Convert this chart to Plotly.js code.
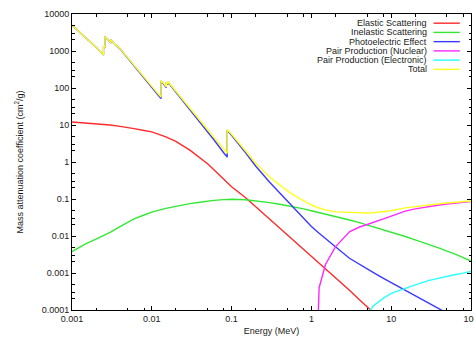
<!DOCTYPE html>
<html>
<head>
<meta charset="utf-8">
<script src="https://cdn.plot.ly/plotly-3.0.1.min.js"></script>
<style>html,body{margin:0;padding:0;background:#fff;}#chart{width:474px;height:340px;}</style>
</head>
<body>
<div id="chart"></div>
<script>
// ---- data ----
const seriesNames = ["Elastic Scattering", "Inelastic Scattering", "Photoelectric Effect",
  "Pair Production (Nuclear)", "Pair Production (Electronic)", "Total"];
const seriesColors = ["#ff2a2a", "#33e833", "#3a3aff", "#ff2aff", "#2affff", "#ffff22"];

const energyScatter = [0.001,0.0015,0.002,0.003,0.004,0.005,0.006,0.008,0.01,
  0.015,0.02,0.03,0.04,0.05,0.06,0.08,
  0.1,0.15,0.2,0.3,0.4,0.5,0.6,0.8,
  1,1.25,1.5,2,3,4,5,6,8,
  10,15,20,30,40,50,60,80,100];
const elastic = [12.0,11.4,10.9,10.0,9.2,8.6,8.0,7.1,6.5,
  4.8,3.6,2.1,1.32,0.9,0.62,0.33,
  0.215,0.108,0.062,0.029,0.017,0.0112,0.0078,0.0044,
  0.0029,0.0019,0.00131,0.00075,0.00034,0.00019,0.000122,0.000085,0.000048,
  0.00003,0.000014,0.0000078,0.0000035,0.000002,0.0000013,0.0000009,0.0000005,0.0000003];
const inelastic = [0.0038,0.0062,0.0082,0.0125,0.018,0.024,0.029,0.037,0.044,
  0.056,0.064,0.075,0.082,0.088,0.092,0.096,
  0.098,0.095,0.090,0.080,0.072,0.066,0.061,0.054,
  0.048,0.043,0.039,0.034,0.027,0.023,0.020,0.018,0.015,
  0.0128,0.0097,0.0079,0.0060,0.0047,0.0039,0.0034,0.0026,0.0021];

const energyPhoto = [0.001,0.0015,0.002,0.002484,0.002484,0.002586,0.002586,0.003066,0.003066,
  0.003554,0.003554,0.003851,0.003851,0.004,0.005,0.006,0.008,0.01,
  0.013035,0.013035,0.0152,0.0152,0.015861,0.015861,0.02,0.03,0.04,0.05,0.06,0.08,
  0.088005,0.088005,0.1,0.15,0.2,0.3,0.4,0.5,0.6,0.8,
  1,1.25,1.5,2,3,4,5,6,8,10,15,20,30,40,50,60,80,100];
const photoelectric = [4950,2300,1260,775,1350,1230,2450,1650,2050,
  1375,1500,1207,1270,1150,640,395,186,103,
  51.5,155,103,140,125,145,78,26,12,6.6,4.0,1.75,
  1.35,7.1,5.3,1.78,0.78,0.284,0.147,0.0885,0.058,0.030,
  0.018,0.0118,0.0087,0.0051,0.0025,0.0017,0.00129,0.00103,0.00072,0.00055,0.000335,0.00024,0.00015,0.000107,0.000083,0.000068,0.000049,0.000038];
const total = [4962,2311,1271,785,1360,1240,2460,1660,2060,
  1384,1509,1216,1279,1159,648,403,193,109.5,
  56.8,160.3,107.7,144.7,129.5,149.5,81.7,28.2,13.4,7.59,4.71,2.18,
  1.73,7.48,5.61,1.98,0.93,0.393,0.236,0.166,0.127,0.0884,
  0.0689,0.0571,0.0507,0.0450,0.0428,0.0424,0.0420,0.0424,0.0450,0.0482,0.0574,0.0626,0.0698,0.0746,0.0780,0.0805,0.0849,0.0882];

const energyPairNuclear = [1.022,1.25,1.5,2,3,4,5,6,8,10,15,20,30,40,50,60,80,100];
const pairNuclear = [1e-9,0.0004,0.0017,0.0051,0.013,0.0175,0.0205,0.0232,0.029,0.0345,0.047,0.054,0.063,0.069,0.073,0.076,0.081,0.085];

const energyPairElectronic = [2.044,3,4,5,6,8,10,15,20,30,40,50,60,80,100];
const pairElectronic = [1e-9,0.000003,0.00003,0.00008,0.00013,0.00021,0.00028,0.00039,0.00048,0.00063,0.00073,0.00081,0.00088,0.00099,0.0011];

const xTickVals = [0.001,0.01,0.1,1,10,100];
const xTickText = ["0.001","0.01","0.1","1","10","100"];
const yTickVals = [0.0001,0.001,0.01,0.1,1,10,100,1000,10000];
const yTickText = ["0.0001","0.001","0.01","0.1","1","10","100","1000","10000"];
const xMinorTicks = [0.002,0.005,0.008,0.02,0.05,0.08,0.2,0.5,0.8,2,5,8,20,50,80];
const yMinorTicks = [0.0002,0.0003,0.0005,0.002,0.003,0.005,0.02,0.03,0.05,0.2,0.3,0.5,2,3,5,20,30,50,200,300,500,2000,3000,5000];

// ---- traces ----
const xs = [energyScatter, energyScatter, energyPhoto, energyPairNuclear, energyPairElectronic, energyPhoto];
const ys = [elastic, inelastic, photoelectric, pairNuclear, pairElectronic, total];
const traces = seriesNames.map((n, i) => ({
  x: xs[i], y: ys[i], name: n, type: 'scatter', mode: 'lines',
  line: {color: seriesColors[i], width: 1.4}, showlegend: false, hoverinfo: 'skip'
}));

const font = {family: '"Liberation Sans", Arial, sans-serif', size: 9, color: '#1a1a1a'};

// gnuplot-style key: right-aligned text, line sample to the right
const keyTop = 0.969, keyStep = 0.0312;
const annotations = seriesNames.map((n, i) => ({
  xref: 'paper', yref: 'paper', x: 0.894, y: keyTop - i * keyStep,
  xanchor: 'right', yanchor: 'middle', text: n, showarrow: false, font: font
}));
const shapes = seriesNames.map((n, i) => ({
  type: 'line', xref: 'paper', yref: 'paper', x0: 0.906, x1: 0.972,
  y0: keyTop - i * keyStep, y1: keyTop - i * keyStep,
  line: {color: seriesColors[i], width: 1.4}
}));

const axisCommon = {
  type: 'log', showline: true, linecolor: '#000', linewidth: 1, mirror: 'ticks',
  ticks: 'inside', ticklen: 4, tickcolor: '#000', tickwidth: 1,
  showgrid: false, zeroline: false, tickfont: font, tickmode: 'array',
  ticklabeloverflow: 'allow'
};

const layout = {
  width: 474, height: 340,
  margin: {l: 72, r: 3, t: 14, b: 30},
  paper_bgcolor: '#fff', plot_bgcolor: '#fff', font: font,
  xaxis: Object.assign({}, axisCommon, {
    range: [-3, 2], tickvals: xTickVals, ticktext: xTickText,
    minor: {tickmode: 'array', tickvals: xMinorTicks, ticks: 'inside', ticklen: 2.5, tickcolor: '#000', showgrid: false},
    title: {text: 'Energy (MeV)', font: font, standoff: 4}
  }),
  yaxis: Object.assign({}, axisCommon, {
    range: [-4, 4], tickvals: yTickVals, ticktext: yTickText,
    minor: {tickmode: 'array', tickvals: yMinorTicks, ticks: 'inside', ticklen: 2.5, tickcolor: '#000', showgrid: false},
    title: {text: 'Mass attenuation coefficient (cm<sup>2</sup>/g)', font: font, standoff: 16}
  }),
  annotations: annotations,
  shapes: shapes,
  showlegend: false
};

Plotly.newPlot('chart', traces, layout, {displayModeBar: false, staticPlot: true});
</script>
</body>
</html>
